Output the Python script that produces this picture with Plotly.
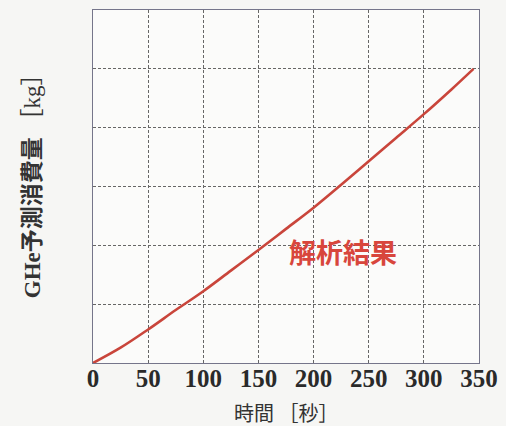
import plotly.graph_objects as go

# Data (time in seconds, GHe consumption in grid units)
time_s = [0, 25, 50, 75, 100, 125, 150, 175, 200, 225, 250, 275, 300, 325, 345]
ghe_kg = [0, 0.26, 0.57, 0.90, 1.22, 1.57, 1.92, 2.28, 2.64, 3.03, 3.43, 3.83, 4.23, 4.65, 5.0]
x_ticks = [0, 50, 100, 150, 200, 250, 300, 350]
y_grid = [0, 1, 2, 3, 4, 5, 6]
series_label = "解析結果"
x_title = "時間 ［秒］"
y_title = "<b>GHe</b><b>予測消費量</b> ［kg］"

fig = go.Figure()
fig.add_trace(go.Scatter(
    x=time_s, y=ghe_kg, mode="lines", line=dict(color="#c9453b", width=2.6, shape="spline"),
    showlegend=False, hoverinfo="skip"))

fig.add_annotation(x=227, y=1.89, xref="x", yref="y", text="<b>" + series_label + "</b>",
                   showarrow=False, font=dict(family="Noto Sans CJK JP", size=27, color="#d8463c"))

fig.add_annotation(x=0.5, y=-0.14, xref="paper", yref="paper", text=x_title,
                   showarrow=False, xanchor="center", yanchor="middle",
                   font=dict(family="Noto Sans CJK JP", size=20, color="#333333"))
fig.add_annotation(x=-0.158, y=0.518, xref="paper", yref="paper", text=y_title, textangle=-90,
                   showarrow=False, xanchor="center", yanchor="middle",
                   font=dict(family="Liberation Serif, Noto Sans CJK JP", size=23, color="#333333"))

axis_common = dict(showline=True, linecolor="#75758a", linewidth=1.2, mirror=True,
                   showgrid=True, gridcolor="#666666", griddash="3px,2px", gridwidth=0.8,
                   zeroline=False, ticks="", automargin=False)

fig.update_xaxes(range=[0, 350], tickvals=x_ticks, ticktext=["<b>%d</b>" % v for v in x_ticks],
                 tickfont=dict(family="Liberation Serif", size=25, color="#2a2a2a"),
                 ticklabelstandoff=-7, **axis_common)
fig.update_yaxes(range=[0, 6], tickvals=y_grid, showticklabels=False, **axis_common)

fig.update_layout(width=506, height=426, margin=dict(l=93, r=27, t=10, b=63),
                  paper_bgcolor="#f6f6f4", plot_bgcolor="#fbfbfa")

fig.write_html("out.html", config={"displayModeBar": False},
               post_script="document.body.style.margin='0';document.body.style.overflow='hidden';")
